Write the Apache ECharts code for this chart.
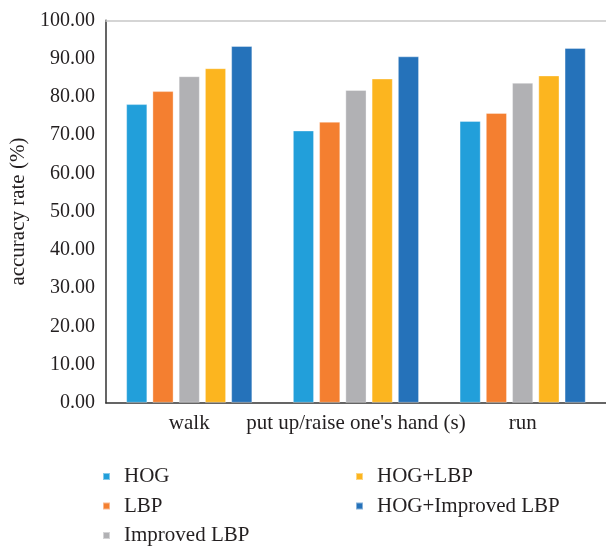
<!DOCTYPE html>
<html><head><meta charset="utf-8">
<script src="https://cdn.jsdelivr.net/npm/echarts@6/dist/echarts.min.js"></script>
<style>html,body{margin:0;padding:0;background:#fff}#c{width:606px;height:546px}</style>
</head><body><div id="c"></div>
<script>
const categories = ['walk', "put up/raise one's hand (s)", 'run'];
const seriesNames = ['HOG', 'LBP', 'Improved LBP', 'HOG+LBP', 'HOG+Improved LBP'];
const hog = [78.1, 71.2, 73.7];
const lbp = [81.5, 73.5, 75.8];
const improvedLbp = [85.4, 81.8, 83.7];
const hogLbp = [87.5, 84.8, 85.6];
const hogImprovedLbp = [93.3, 90.6, 92.8];
const yMin = 0, yMax = 100, yStep = 10;

const colors = ['#229fda', '#f47f30', '#b1b1b4', '#fcb51f', '#2572ba'];
const values = [hog, lbp, improvedLbp, hogLbp, hogImprovedLbp];
const FONT = '"Liberation Serif", "Times New Roman", serif';

const chart = echarts.init(document.getElementById('c'), null, {renderer: 'canvas'});
const series = seriesNames.map((n, i) => ({
  name: n, type: 'bar', xAxisIndex: 0, yAxisIndex: 0,
  data: values[i], barWidth: 21, barGap: '25%',
  itemStyle: {color: colors[i], borderColor: 'rgba(255,255,255,0.45)', borderWidth: 0.8},
  emphasis: {disabled: true}
}));
const legendCommon = {
  orient: 'vertical', padding: 0, itemWidth: 25, itemHeight: 7, itemGap: 8.5,
  icon: 'path://M0 0H7V7H0Z', symbolKeepAspect: true,
  textStyle: {fontFamily: FONT, fontSize: 21, color: '#231f20'}
};
chart.setOption({
  animation: false,
  color: colors,
  grid: {left: 103, width: 506, top: 20.5, bottom: 546 - 402.7},
  legend: [
    Object.assign({}, legendCommon, {data: seriesNames.slice(0, 3), left: 102, top: 466}),
    Object.assign({}, legendCommon, {data: seriesNames.slice(3), left: 355, top: 466})
  ],
  xAxis: [
    {type: 'category', data: categories, position: 'bottom',
     axisLine: {show: true, lineStyle: {color: '#333', width: 1.5}},
     axisTick: {show: false},
     axisLabel: {fontFamily: FONT, fontSize: 21, color: '#231f20', margin: 10, interval: 0}},
    {type: 'category', data: categories, position: 'top',
     axisLine: {show: true, lineStyle: {color: '#c8c8c8', width: 1.5}},
     axisTick: {show: false}, axisLabel: {show: false}, splitLine: {show: false}}
  ],
  yAxis: [
    {type: 'value', min: yMin, max: yMax, interval: yStep,
     name: 'accuracy rate (%)', nameLocation: 'middle', nameGap: 71,
     nameTextStyle: {fontFamily: FONT, fontSize: 21, color: '#231f20'},
     axisLine: {show: true, lineStyle: {color: '#555', width: 1.8}},
     axisTick: {show: false}, splitLine: {show: false},
     axisLabel: {fontFamily: FONT, fontSize: 20, color: '#231f20', margin: 11,
       formatter: v => v.toFixed(2)}}
  ],
  series: series
});
</script></body></html>
